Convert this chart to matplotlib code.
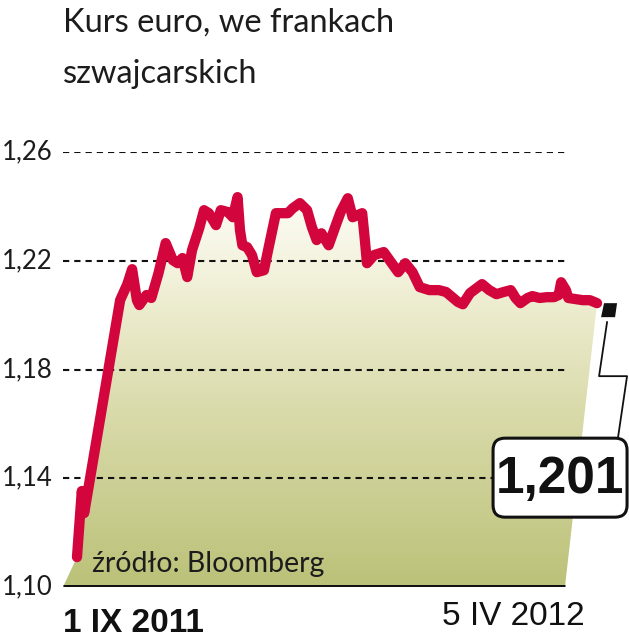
import matplotlib
matplotlib.use("Agg")
import matplotlib.pyplot as plt
import matplotlib.transforms as mtransforms
from matplotlib.colors import LinearSegmentedColormap
from matplotlib.patches import Polygon, FancyBboxPatch
from matplotlib.lines import Line2D
import numpy as np

# days since 1 IX 2011, EUR/CHF
DAYS = [0, 2, 3, 18, 21, 23, 25, 26, 29, 31, 34, 37, 40, 42, 44, 46, 48, 51,
        53, 55, 58, 60, 63, 65, 67, 68, 69, 71, 73, 75, 78, 80, 83, 85, 88, 90,
        93, 96, 98, 100, 102, 105, 108, 110, 113, 115, 119, 120, 121, 124, 128,
        131, 134, 137, 140, 143, 147, 151, 154, 159, 161, 164, 169, 172, 175,
        178, 181, 183, 185, 188, 190, 193, 196, 199, 201, 202, 204, 205, 208,
        211, 214, 217]
RATE = [1.1110, 1.1353, 1.1272, 1.2055, 1.2114, 1.2169, 1.2055, 1.2037, 1.2074,
        1.2063, 1.2154, 1.2265, 1.2202, 1.2191, 1.2210, 1.2140, 1.2239, 1.2320,
        1.2386, 1.2375, 1.2331, 1.2386, 1.2379, 1.2360, 1.2434, 1.2313, 1.2257,
        1.2250, 1.2221, 1.2158, 1.2165, 1.2250, 1.2375, 1.2375, 1.2375, 1.2393,
        1.2412, 1.2386, 1.2324, 1.2276, 1.2301, 1.2257, 1.2331, 1.2379, 1.2430,
        1.2360, 1.2375, 1.2287, 1.2191, 1.2221, 1.2232, 1.2195, 1.2158, 1.2191,
        1.2158, 1.2103, 1.2092, 1.2092, 1.2085, 1.2048, 1.2040, 1.2081, 1.2114,
        1.2092, 1.2077, 1.2085, 1.2092, 1.2063, 1.2044, 1.2063, 1.2070, 1.2063,
        1.2066, 1.2066, 1.2074, 1.2121, 1.2092, 1.2063, 1.2059, 1.2055, 1.2055,
        1.2044]
Y_TICKS = [1.10, 1.14, 1.18, 1.22, 1.26]
Y_LABELS = ["1,10", "1,14", "1,18", "1,22", "1,26"]
X_LABELS = ["1 IX 2011", "5 IV 2012"]
LAST_LABEL = "1,201"
TITLE = ["Kurs euro, we frankach", "szwajcarskich"]
SOURCE = "źródło: Bloomberg"

RED = "#d2063c"
INK = "#1c1c1c"
LIGHT = ["Lato", "DejaVu Sans"]
NARROW = ["Liberation Sans Narrow", "Liberation Sans", "DejaVu Sans"]

W, H = 629, 640
fig = plt.figure(figsize=(W / 100, H / 100), dpi=100)
ax = fig.add_axes([63 / W, (H - 587) / H, (610 - 63) / W, (587 - 152) / H])
ax.set_xlim(-5.84, 222.4)
ax.set_ylim(1.10, 1.26)
ax.axis("off")

# skewed base of the area, as drawn in the original
base_l = DAYS[0] - 5.84
base_r = DAYS[-1] - 13.4

# gradient area under the line
verts = [(base_l, 1.10)] + list(zip(DAYS, RATE)) + [(base_r, 1.10)]
poly = Polygon(verts, closed=True, fc="none", ec="none")
ax.add_patch(poly)
cmap = LinearSegmentedColormap.from_list(
    "fill", [(0.0, "#bbc178"), (0.45, "#dadbab"), (0.8, "#f3f2dc"), (1.0, "#fdfdf7")])
grad = np.linspace(0, 1, 256).reshape(-1, 1)
im = ax.imshow(grad, cmap=cmap, origin="lower", aspect="auto",
               extent=[base_l, DAYS[-1] + 2, 1.10, 1.245], zorder=1)
im.set_clip_path(poly)

# dashed grid and heavy baseline
for yv in Y_TICKS[1:]:
    ax.plot([base_l, base_r], [yv, yv], color="#111111", lw=1.5,
            ls=(0, (3, 2.4)), zorder=2)
ax.plot([base_l, base_r], [1.10, 1.10], color="#111111", lw=3.6,
        solid_capstyle="butt", zorder=3)

for yv, lab in zip(Y_TICKS, Y_LABELS):
    ax.text(base_l - 4.2, yv, lab, ha="right", va="center", fontsize=18.5,
            family=LIGHT, color=INK)

ax.plot(DAYS, RATE, color=RED, lw=7.4, solid_capstyle="round",
        solid_joinstyle="round", zorder=4)

ax.text(6.3, 1.1055, SOURCE, ha="left", va="baseline", fontsize=20.5,
        family=LIGHT, color=INK, zorder=5)

# end marker, leader line and value box, anchored on the last point
fig.canvas.draw()
px, py = ax.transData.transform((DAYS[-1], RATE[-1]))
anchor = mtransforms.Affine2D().translate(px, py)
sq = Polygon([(7, 0), (20, 0), (18, -14), (4, -14)], closed=True,
             fc="#111111", ec="none", transform=anchor, clip_on=False, zorder=6)
ax.add_patch(sq)
lead = Line2D([10, 2, 30, 21], [-19, -73, -73, -134], color="#111111", lw=1.3,
              transform=anchor, clip_on=False, zorder=6)
ax.add_line(lead)
r = 12
box = FancyBboxPatch((-104 + r, -214 + r), 134 - 2 * r, 79 - 2 * r,
                     boxstyle=f"round,pad={r}", fc="white", ec="#111111",
                     lw=2.2, transform=anchor, clip_on=False, zorder=7)
ax.add_patch(box)
ax.annotate(LAST_LABEL, xy=(DAYS[-1], RATE[-1]), xytext=(-37, -176),
            textcoords="offset pixels", ha="center", va="center",
            fontsize=37, fontweight="bold", family=NARROW, color="#111111",
            annotation_clip=False, zorder=8)

# titles and date labels
fig.text(63 / W, 1 - 32 / H, TITLE[0], ha="left", va="baseline", fontsize=23.5,
         family=LIGHT, color=INK)
fig.text(63 / W, 1 - 83 / H, TITLE[1], ha="left", va="baseline", fontsize=23.5,
         family=LIGHT, color=INK)
fig.text(63 / W, 1 - 632 / H, X_LABELS[0], ha="left", va="baseline",
         fontsize=24, fontweight="bold", family=NARROW, color="#111111")
fig.text(585 / W, 1 - 625 / H, X_LABELS[1], ha="right", va="baseline",
         fontsize=24, family=NARROW, color="#111111")

fig.savefig("out.png", dpi=100)
